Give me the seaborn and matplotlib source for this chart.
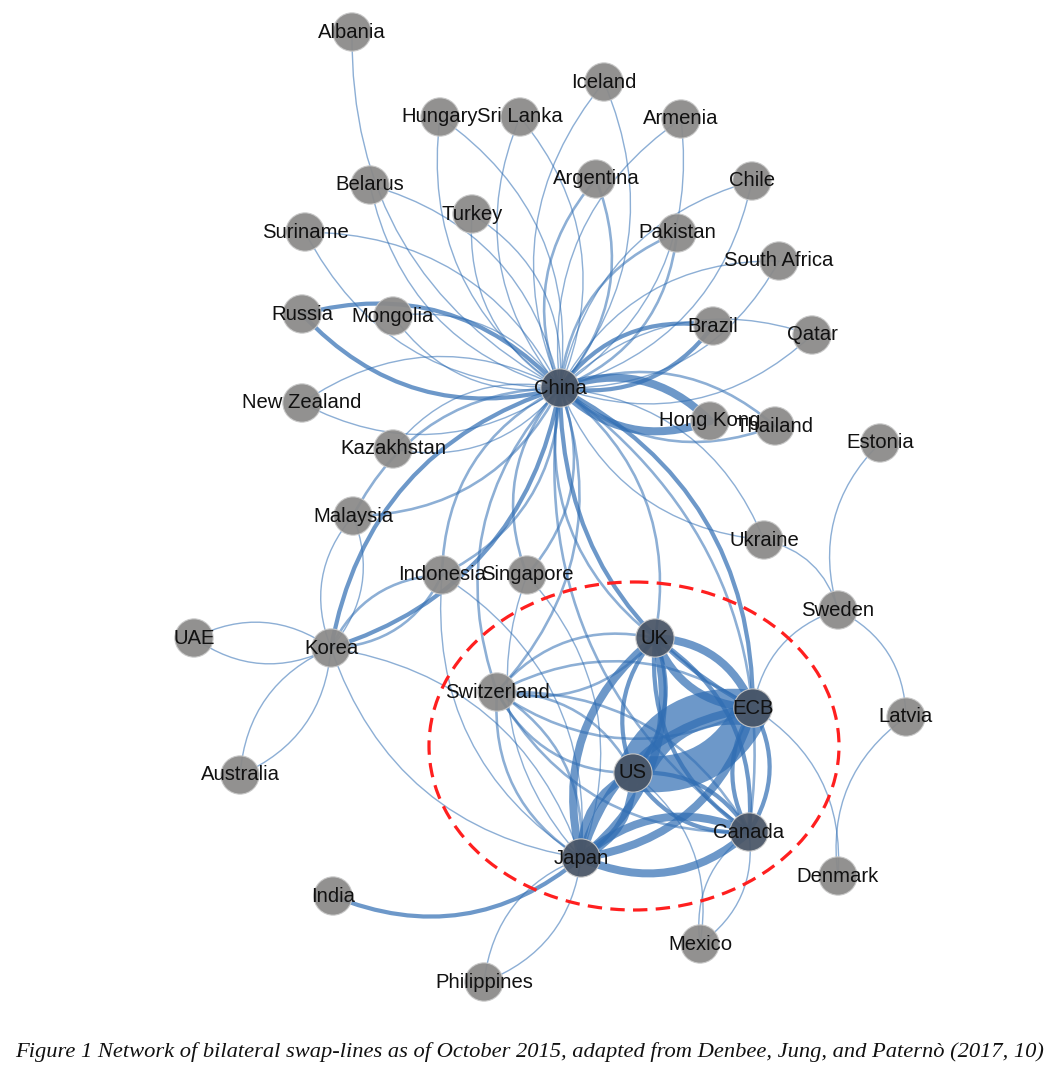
import numpy as np
import pandas as pd
import matplotlib
matplotlib.use("Agg")
import matplotlib.pyplot as plt
from matplotlib.patches import FancyArrowPatch, Ellipse
import seaborn as sns

# ── Data: node layout (pixel space of the original figure) ────────────────────
node_names = [
    "Albania", "Iceland", "Hungary", "Sri Lanka", "Armenia", "Belarus",
    "Argentina", "Chile", "Turkey", "Suriname", "Pakistan", "South Africa",
    "Russia", "Mongolia", "Brazil", "Qatar", "China", "New Zealand",
    "Hong Kong", "Thailand", "Estonia", "Kazakhstan", "Malaysia", "Ukraine",
    "Indonesia", "Singapore", "Sweden", "UAE", "Korea", "UK", "Switzerland",
    "ECB", "Latvia", "Australia", "US", "Canada", "Japan", "Denmark",
    "India", "Mexico", "Philippines",
]
node_x = [352, 604, 440, 520, 681, 370, 596, 752, 472, 305, 677, 779,
          302, 393, 713, 812, 560, 302, 710, 775, 880, 393, 353, 764,
          442, 527, 838, 194, 331, 655, 497, 753, 906, 240, 633, 749,
          581, 838, 333, 700, 484]
node_y = [32, 82, 117, 117, 119, 185, 179, 181, 214, 232, 233, 261,
          314, 316, 326, 335, 388, 403, 421, 426, 443, 449, 516, 540,
          575, 575, 610, 638, 648, 638, 692, 708, 717, 775, 773, 832,
          858, 876, 896, 944, 982]
core_nodes = ["China", "UK", "US", "ECB", "Canada", "Japan"]

# ── Data: swap lines (source, target, size class 1-5, arcs) ───────────────────
# arcs: 2 = drawn in both directions, +1 / -1 = a single arc
edge_src = (["China"] * 29
            + ["Korea"] * 5
            + ["Japan"] * 4
            + ["Mexico", "Mexico", "Sweden", "Sweden", "Sweden", "Sweden",
               "Denmark", "Denmark"]
            + ["Switzerland"] * 5
            + ["US", "UK", "UK", "UK", "UK", "US", "US", "ECB", "ECB", "Japan"])
edge_dst = (["Albania", "Hungary", "Sri Lanka", "Iceland", "Armenia", "Belarus",
             "Argentina", "Chile", "Turkey", "Suriname", "Pakistan",
             "South Africa", "Russia", "Mongolia", "Brazil", "Qatar",
             "New Zealand", "Hong Kong", "Thailand", "Kazakhstan", "Malaysia",
             "Ukraine", "Indonesia", "Singapore", "Korea", "UK", "ECB",
             "Switzerland", "Canada"]
            + ["UAE", "Australia", "Malaysia", "Indonesia", "Japan"]
            + ["Philippines", "India", "Indonesia", "Singapore"]
            + ["Canada", "US", "ECB", "Estonia", "Latvia", "Ukraine",
               "ECB", "Latvia"]
            + ["UK", "ECB", "US", "Japan", "Canada"]
            + ["ECB", "ECB", "US", "Japan", "Canada", "Japan", "Canada",
               "Japan", "Canada", "Canada"])
edge_size = ([1, 1, 1, 1, 1, 1, 2, 1, 1, 1, 2, 1, 3, 1, 3, 1, 1, 4, 2, 1,
              2, 1, 2, 2, 3, 2, 3, 2, 2]
             + [1, 1, 1, 2, 1]
             + [1, 3, 1, 1]
             + [1, 1, 1, 1, 1, 1, 1, 1]
             + [2, 2, 2, 2, 2]
             + [5, 4, 3, 4, 3, 4, 3, 4, 3, 4])
edge_arcs = ([-1] + [2] * 28
             + [2, 2, 2, 2, 2]
             + [2, -1, 2, 2]
             + [2, 1, 1, -1, -1, 1, 1, -1]
             + [2] * 5
             + [2] * 10)

caption = ("Figure 1 Network of bilateral swap-lines as of October 2015, "
           "adapted from Denbee, Jung, and Paternò (2017, 10)")

# ── Build tables ──────────────────────────────────────────────────────────────
nodes = pd.DataFrame({"name": node_names, "x": node_x, "y": node_y})
nodes["group"] = np.where(nodes["name"].isin(core_nodes), "core", "other")
pos = nodes.set_index("name")[["x", "y"]]

edges = pd.DataFrame({"src": edge_src, "dst": edge_dst,
                      "size": edge_size, "arcs": edge_arcs})

W, H = 1048, 1067
PX = 0.72  # points per pixel at dpi=100
width_px = {1: 1.4, 2: 2.6, 3: 4.2, 4: 8.0, 5: 36.0}
rad_by_size = {1: 0.3, 2: 0.3, 3: 0.3, 4: 0.32, 5: 0.36}
EDGE_COLOR = "#2f6db3"

sns.set_theme(style="white")
plt.rcParams["font.family"] = ["Liberation Sans", "DejaVu Sans"]

fig = plt.figure(figsize=(W / 100, H / 100), dpi=100)
ax = fig.add_axes([0, 0, 1, 1])

# ── Edges: curved arcs, bilateral lines drawn both ways ──────────────────────
for _, e in edges.iterrows():
    a = tuple(pos.loc[e["src"]])
    b = tuple(pos.loc[e["dst"]])
    rad = rad_by_size[e["size"]]
    rads = [rad, -rad] if e["arcs"] == 2 else [rad * e["arcs"]]
    alpha = 0.55 if e["size"] < 3 else 0.7
    for r in rads:
        ax.add_patch(FancyArrowPatch(
            a, b, connectionstyle=f"arc3,rad={r}", arrowstyle="-",
            lw=width_px[e["size"]] * PX, color=EDGE_COLOR, alpha=alpha,
            shrinkA=0, shrinkB=0, zorder=1))

# ── Core-of-the-network marker ────────────────────────────────────────────────
ax.add_patch(Ellipse((634, 746), 410, 328, fill=False, edgecolor="#ff1f1f",
                     lw=3.2 * PX, linestyle=(0, (4.5, 2.6)), zorder=4))

# ── Nodes ─────────────────────────────────────────────────────────────────────
sns.scatterplot(data=nodes, x="x", y="y", hue="group",
                palette={"core": "#4a5667", "other": "#8b8a89"},
                s=760, alpha=0.94, edgecolor="#c8c8c8", linewidth=0.8,
                legend=False, ax=ax, zorder=3)
ax.set_xlim(0, W)
ax.set_ylim(H, 0)
ax.axis("off")

for _, n in nodes.iterrows():
    ax.text(n["x"], n["y"], n["name"], ha="center", va="center",
            fontsize=14.6, color="#111111", zorder=5)

fig.text(0.505, 1 - 1052 / H, caption, ha="center", va="center",
         fontsize=16.2, style="italic",
         family=["Liberation Serif", "DejaVu Serif"], color="#111111")

fig.savefig("out.png", dpi=100)
